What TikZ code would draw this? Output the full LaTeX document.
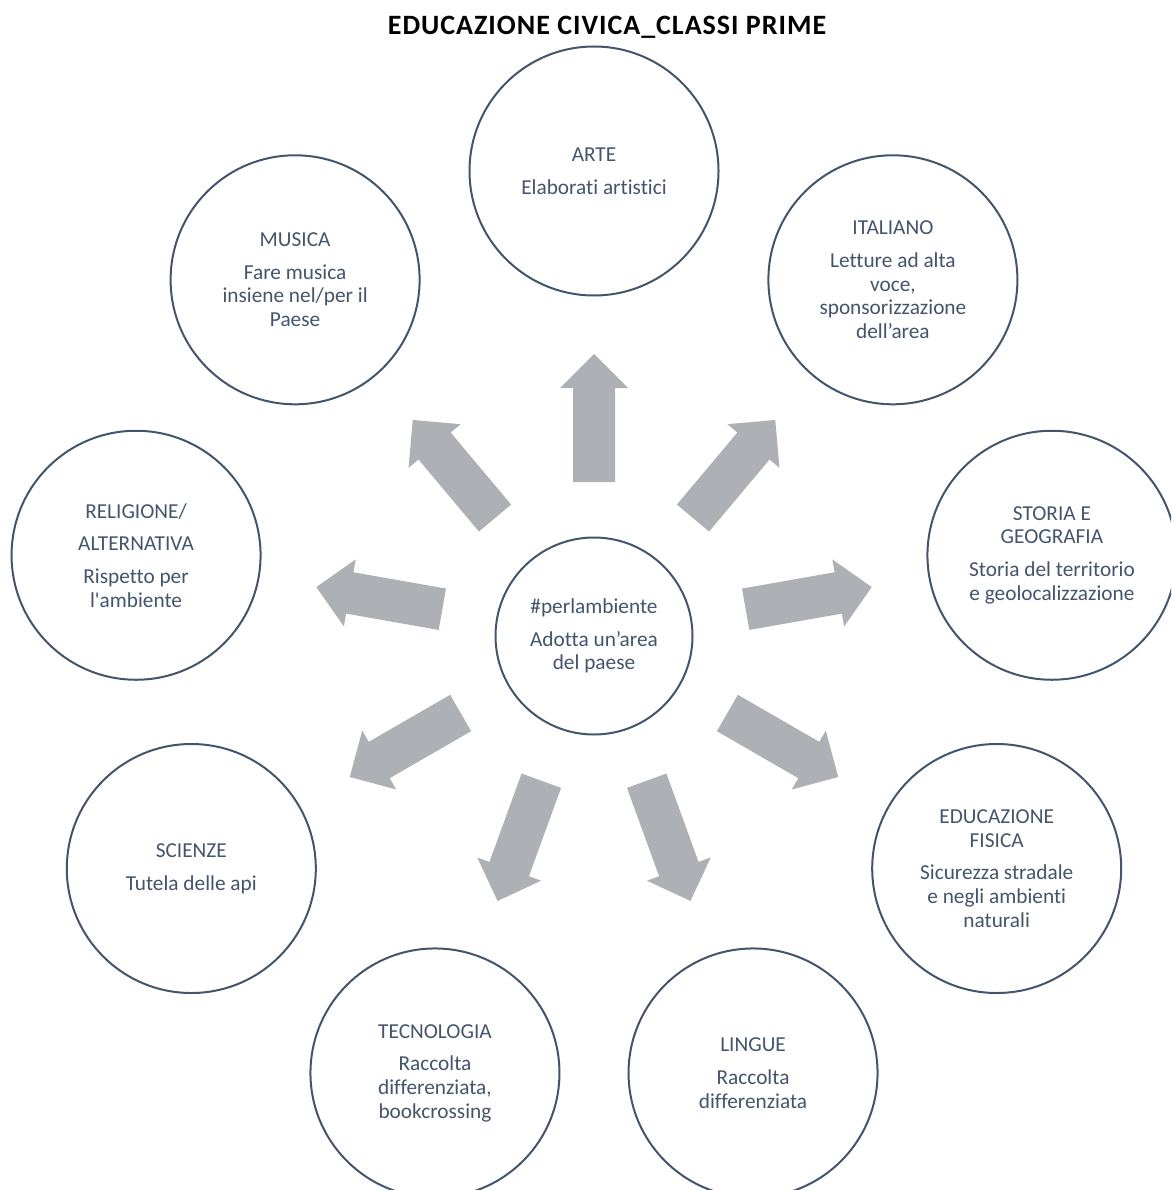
\documentclass[tikz,border=0pt]{standalone}
\usepackage{fontspec}
\setmainfont{Carlito}[Ligatures={NoCommon}]
\newfontfamily\bodyfont{Carlito}[Ligatures={NoCommon}]
\newfontfamily\headfont{Carlito}[LetterSpace=3.5,Ligatures={NoCommon}]
\usetikzlibrary{calc}
\definecolor{txt}{HTML}{44546A}
\definecolor{ring}{HTML}{44546A}
\definecolor{arr}{HTML}{ADB0B4}
\tikzset{
  subj/.style={circle, draw=ring, line width=2pt, minimum size=249pt, inner sep=0pt,
    align=center, text=txt, font=\bodyfont\fontsize{21.3}{23.7}\selectfont},
  hub/.style={subj, minimum size=197pt},
  blockarrow/.style={fill=arr, draw=none}
}
\begin{document}
\begin{tikzpicture}[x=1pt,y=-1pt]
\path[use as bounding box] (0,0) rectangle (1171,1190);
\clip (0,0) rectangle (1171,1190);
\node[font=\headfont\bfseries\fontsize{28}{32}\selectfont, anchor=base] (title) at (607,35) {EDUCAZIONE CIVICA\_CLASSI PRIME};
\node[hub] (c) at (594,636) {\#perlambiente\\[9pt]Adotta un’area\\del paese};
\node[subj] (arte) at ($(c)+(90:465pt)$) {ARTE\\[9pt]Elaborati artistici};
\node[subj] (italiano) at ($(c)+(50:465pt)$) {ITALIANO\\[9pt]Letture ad alta\\voce,\\sponsorizzazione\\dell’area};
\node[subj] (storia) at ($(c)+(10:465pt)$) {STORIA E\\GEOGRAFIA\\[9pt]Storia del territorio\\e geolocalizzazione};
\node[subj] (edfis) at ($(c)+(-30:465pt)$) {EDUCAZIONE\\FISICA\\[9pt]Sicurezza stradale\\e negli ambienti\\naturali};
\node[subj] (lingue) at ($(c)+(-70:465pt)$) {LINGUE\\[9pt]Raccolta\\differenziata};
\node[subj] (tecno) at ($(c)+(-110:465pt)$) {TECNOLOGIA\\[9pt]Raccolta\\differenziata,\\bookcrossing};
\node[subj] (scienze) at ($(c)+(-150:465pt)$) {SCIENZE\\[9pt]Tutela delle api};
\node[subj] (religione) at ($(c)+(170:465pt)$) {RELIGIONE/\\[9pt]ALTERNATIVA\\[9pt]Rispetto per\\l\textquotesingle ambiente};
\node[subj] (musica) at ($(c)+(130:465pt)$) {MUSICA\\[9pt]Fare musica\\insiene nel/per il\\Paese};
\foreach \tgt/\ang in {arte/90, italiano/50, storia/10, edfis/-30, lingue/-70, tecno/-110, scienze/-150, religione/170, musica/130}{
  \begin{scope}[shift={(c.center)}, rotate=\ang]
    \fill[blockarrow] (154pt,-21pt) -- (248pt,-21pt) -- (248pt,-34pt) -- (282pt,0pt)
      -- (248pt,34pt) -- (248pt,21pt) -- (154pt,21pt) -- cycle;
  \end{scope}
}
\end{tikzpicture}
\end{document}
